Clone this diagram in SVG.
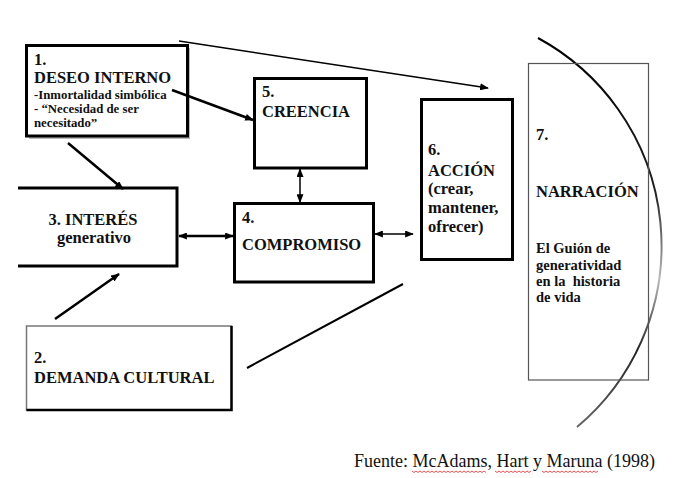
<svg xmlns="http://www.w3.org/2000/svg" width="692" height="478" viewBox="0 0 692 478">
<style>
  .t { font-family: "Liberation Serif", serif; font-weight: 700; fill: #111; }
  .big { font-size: 16.5px; }
  .sm { font-size: 12.8px; }
  .md { font-size: 14.5px; }
  .box { fill: #fff; stroke: #000; stroke-width: 3; }
  .ln { stroke: #000; fill: none; }
  .foot { font-family: "Liberation Serif", serif; font-size: 18px; fill: #111; }
  .sq { stroke: #e04040; stroke-width: 0.9; fill: none; }
</style>
<defs>
  <marker id="ah" viewBox="0 0 10 8" refX="9" refY="4" markerWidth="9" markerHeight="7" markerUnits="userSpaceOnUse" orient="auto-start-reverse">
    <path d="M0,0 L10,4 L0,8 Z" fill="#000"/>
  </marker>
  <linearGradient id="arcg" x1="0" y1="38" x2="0" y2="427" gradientUnits="userSpaceOnUse">
    <stop offset="0" stop-color="#000"/>
    <stop offset="0.4" stop-color="#222"/>
    <stop offset="0.62" stop-color="#bbb"/>
    <stop offset="0.8" stop-color="#222"/>
    <stop offset="1" stop-color="#666"/>
  </linearGradient>
</defs>
<rect width="692" height="478" fill="#fff"/>

<path d="M538,38 A236.5,236.5 0 0,1 577,427" fill="none" stroke="url(#arcg)" stroke-width="2"/>

<g id="node1">
  <rect x="29" y="48" width="161" height="91" fill="#bbb"/>
  <rect class="box" x="26.5" y="45.5" width="161" height="90.5"/>
  <text class="t big" x="34" y="65">1.</text>
  <text class="t big" x="34" y="83">DESEO INTERNO</text>
  <text class="t sm" x="34" y="99">-Inmortalidad simbólica</text>
  <text class="t sm" x="34" y="113">- “Necesidad de ser</text>
  <text class="t sm" x="34" y="127">necesitado”</text>
</g>

<g id="node3">
  <path class="ln" d="M18,188 H177 V266 H18" stroke-width="3"/>
  <text class="t big" x="93" y="225" text-anchor="middle">3. INTERÉS</text>
  <text class="t big" x="94" y="243" text-anchor="middle">generativo</text>
</g>

<g id="node2">
  <rect x="26.5" y="326" width="205" height="84" fill="#fff" stroke="#777" stroke-width="1.5"/>
  <path class="ln" d="M231.5,326 V410 H26.5" stroke-width="2.5"/>
  <text class="t big" x="34" y="363">2.</text>
  <text class="t big" x="34" y="383">DEMANDA CULTURAL</text>
</g>

<g id="node5">
  <rect class="box" x="254.5" y="78.5" width="112" height="89.5"/>
  <text class="t big" x="262" y="97">5.</text>
  <text class="t big" x="262" y="117">CREENCIA</text>
</g>

<g id="node4">
  <rect class="box" x="234.5" y="203.5" width="139" height="78.5"/>
  <text class="t big" x="242" y="223">4.</text>
  <text class="t big" x="242" y="250">COMPROMISO</text>
</g>

<g id="node6">
  <rect class="box" x="421.5" y="99.5" width="91" height="160" stroke-width="2.5"/>
  <text class="t big" x="428" y="155">6.</text>
  <text class="t big" x="428" y="176">ACCIÓN</text>
  <text class="t big" x="428" y="194">(crear,</text>
  <text class="t big" x="428" y="213">mantener,</text>
  <text class="t big" x="428" y="232">ofrecer)</text>
</g>

<g id="node7">
  <rect x="528.5" y="63.5" width="120" height="316.5" fill="none" stroke="#555" stroke-width="1.2"/>
  <text class="t big" x="536" y="140">7.</text>
  <text class="t big" x="536" y="197">NARRACIÓN</text>
  <text class="t md" x="536" y="253">El Guión de</text>
  <text class="t md" x="536" y="270">generatividad</text>
  <text class="t md" x="536" y="286" xml:space="preserve">en la  historia</text>
  <text class="t md" x="536" y="302">de vida</text>
</g>

<g id="connectors">
  <line class="ln" x1="179" y1="41" x2="488" y2="88" stroke-width="1.5" marker-end="url(#ah)"/>
  <line class="ln" x1="172" y1="90" x2="253" y2="120" stroke-width="2.5" marker-end="url(#ah)"/>
  <line class="ln" x1="68" y1="143" x2="123" y2="189" stroke-width="2.5" marker-end="url(#ah)"/>
  <line class="ln" x1="55" y1="319" x2="119" y2="274" stroke-width="2.5" marker-end="url(#ah)"/>
  <line class="ln" x1="179" y1="236" x2="233" y2="236" stroke-width="2.5" marker-start="url(#ah)" marker-end="url(#ah)"/>
  <line class="ln" x1="300" y1="169" x2="300" y2="202" stroke-width="1.5" marker-start="url(#ah)" marker-end="url(#ah)"/>
  <line class="ln" x1="375" y1="234" x2="413" y2="234" stroke-width="1.5" marker-start="url(#ah)" marker-end="url(#ah)"/>
  <line class="ln" x1="247" y1="368" x2="403" y2="284" stroke-width="2"/>
</g>

<g id="footer">
  <text class="foot" x="354" y="467">Fuente: McAdams, Hart y Maruna (1998)</text>
  <path class="sq" d="M412,471 l2,1.5 l2,-1.5 l2,1.5 l2,-1.5 l2,1.5 l2,-1.5 l2,1.5 l2,-1.5 l2,1.5 l2,-1.5 l2,1.5 l2,-1.5 l2,1.5 l2,-1.5 l2,1.5 l2,-1.5 l2,1.5 l2,-1.5 l2,1.5 l2,-1.5 l2,1.5 l2,-1.5 l2,1.5 l2,-1.5 l2,1.5 l2,-1.5 l2,1.5 l2,-1.5 l2,1.5 l2,-1.5 l2,1.5 l2,-1.5 l2,1.5 l2,-1.5 l2,1.5 l2,-1.5 l2,1.5"/>
  <path class="sq" d="M495,471 l2,1.5 l2,-1.5 l2,1.5 l2,-1.5 l2,1.5 l2,-1.5 l2,1.5 l2,-1.5 l2,1.5 l2,-1.5 l2,1.5 l2,-1.5 l2,1.5 l2,-1.5 l2,1.5 l2,-1.5 l2,1.5 l2,-1.5"/>
  <path class="sq" d="M542,471 l2,1.5 l2,-1.5 l2,1.5 l2,-1.5 l2,1.5 l2,-1.5 l2,1.5 l2,-1.5 l2,1.5 l2,-1.5 l2,1.5 l2,-1.5 l2,1.5 l2,-1.5 l2,1.5 l2,-1.5 l2,1.5 l2,-1.5 l2,1.5 l2,-1.5 l2,1.5 l2,-1.5 l2,1.5 l2,-1.5 l2,1.5 l2,-1.5 l2,1.5 l2,-1.5"/>
</g>
</svg>
